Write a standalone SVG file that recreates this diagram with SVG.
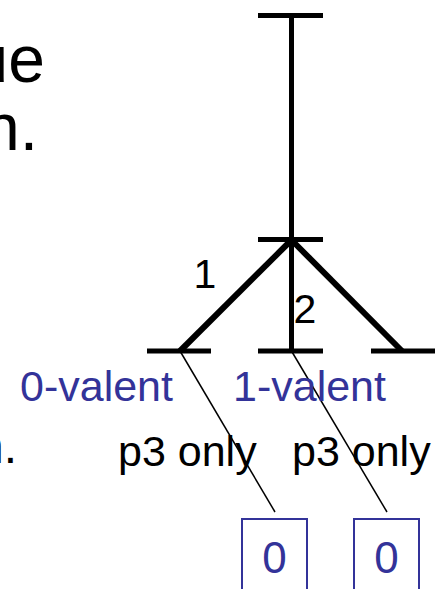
<svg xmlns="http://www.w3.org/2000/svg" width="442" height="589" viewBox="0 0 442 589">
  <style>
    .bar{stroke:#000;stroke-width:5;fill:none}
    .edge{stroke:#000;stroke-width:6;fill:none}
    .thin{stroke:#000;stroke-width:1.5;fill:none}
    .t{font-family:"Liberation Sans",Arial,sans-serif;fill:#000}
    .b{font-family:"Liberation Sans",Arial,sans-serif;fill:#333399}
    .box{fill:#fff;stroke:#333399;stroke-width:2}
  </style>
  <rect width="442" height="589" fill="#fff"/>
  <g id="slide-text">
    <text class="t" x="45" y="82" font-size="66" text-anchor="end">ue</text>
    <text class="t" x="38" y="150" font-size="66" text-anchor="end">n.</text>
    <text class="t" x="17" y="463" font-size="48" text-anchor="end">n.</text>
  </g>
  <g id="connectors">
    <line class="bar" x1="291.5" y1="15" x2="291.5" y2="351"/>
    <line class="edge" x1="291.5" y1="240" x2="180" y2="351"/>
    <line class="edge" x1="291.5" y1="240" x2="402" y2="351"/>
    <line class="thin" x1="180" y1="351" x2="275" y2="512"/>
    <line class="thin" x1="291.5" y1="351" x2="387" y2="512"/>
  </g>
  <g id="node-top"><line class="bar" x1="258" y1="15.5" x2="323" y2="15.5"/></g>
  <g id="node-mid"><line class="bar" x1="258" y1="239.5" x2="323" y2="239.5"/></g>
  <g id="node-left"><line class="bar" x1="147" y1="351" x2="211" y2="351"/></g>
  <g id="node-center"><line class="bar" x1="258" y1="351" x2="323" y2="351"/></g>
  <g id="node-right"><line class="bar" x1="371" y1="351" x2="435" y2="351"/></g>
  <g id="edge-labels">
    <text class="t" x="205" y="288" font-size="41" text-anchor="middle">1</text>
    <text class="t" x="305" y="323" font-size="41" text-anchor="middle">2</text>
  </g>
  <g id="label-0-valent"><text class="b" x="20" y="401" font-size="43">0-valent</text></g>
  <g id="label-1-valent"><text class="b" x="233" y="401" font-size="43">1-valent</text></g>
  <g id="label-p3-left"><text class="t" x="118" y="466" font-size="43">p3 only</text></g>
  <g id="label-p3-right"><text class="t" x="292" y="466" font-size="43">p3 only</text></g>
  <g id="box-left">
    <rect class="box" x="242" y="519" width="65" height="80"/>
    <text class="b" x="274.5" y="573" font-size="44" text-anchor="middle">0</text>
  </g>
  <g id="box-right">
    <rect class="box" x="354" y="519" width="65" height="80"/>
    <text class="b" x="386.5" y="573" font-size="44" text-anchor="middle">0</text>
  </g>
</svg>
